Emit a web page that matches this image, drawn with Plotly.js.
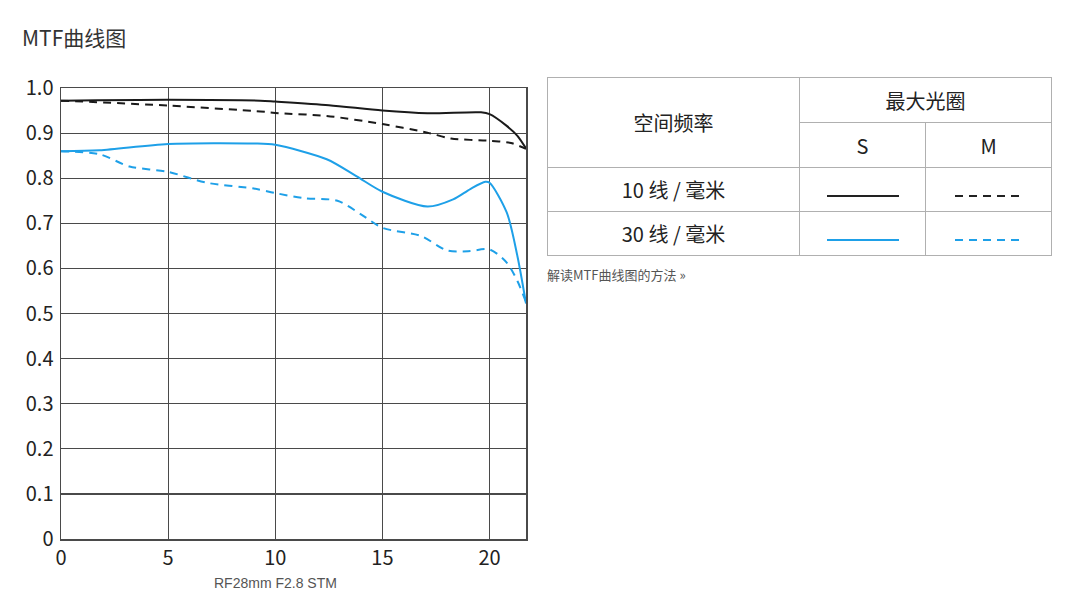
<!DOCTYPE html>
<html><head><meta charset="utf-8">
<script src="https://cdn.plot.ly/plotly-3.0.1.min.js"></script>
<style>
body{margin:0;background:#fff;font-family:"Noto Sans CJK SC","Noto Sans",sans-serif;}
#title{position:absolute;left:22px;top:22px;font-size:21px;color:#333;}
#chart{position:absolute;left:0;top:0;width:1080px;height:615px;}
#leg{position:absolute;left:547px;top:77px;border-collapse:collapse;}
#leg td{border:1.5px solid #b0b0b0;text-align:center;font-size:20px;color:#222;padding:0;}
#link{position:absolute;left:547px;top:265px;font-size:13px;color:#555;}
</style></head><body>
<div id="chart"></div>
<div id="title">MTF曲线图</div>
<table id="leg">
<tr style="height:45px"><td rowspan="2" style="width:251px">空间频率</td><td colspan="2">最大光圈</td></tr>
<tr style="height:45px"><td style="width:125px">S</td><td style="width:125px">M</td></tr>
<tr style="height:44px"><td>10 线 / 毫米</td><td><svg width="72" height="4"><line x1="0" y1="2" x2="72" y2="2" stroke="#222" stroke-width="2"/></svg></td><td><svg width="68" height="4"><line x1="0" y1="2" x2="68" y2="2" stroke="#222" stroke-width="2" stroke-dasharray="8,6"/></svg></td></tr>
<tr style="height:44px"><td>30 线 / 毫米</td><td><svg width="72" height="4"><line x1="0" y1="2" x2="72" y2="2" stroke="#1EA0E8" stroke-width="2"/></svg></td><td><svg width="68" height="4"><line x1="0" y1="2" x2="68" y2="2" stroke="#1EA0E8" stroke-width="2" stroke-dasharray="8,6"/></svg></td></tr>
</table>
<div id="link">解读MTF曲线图的方法 »</div>
<script>
const xS10 = [0, 5, 9.3, 10, 12.5, 15, 17.1, 19.6, 20, 20.8, 21.3, 21.7];
const yS10 = [0.972, 0.974, 0.972, 0.970, 0.962, 0.950, 0.944, 0.946, 0.942, 0.916, 0.894, 0.866];
const xM10 = [0, 5, 9.3, 10.2, 12.4, 15, 17.1, 18.2, 20, 21, 21.7];
const yM10 = [0.972, 0.961, 0.948, 0.944, 0.938, 0.920, 0.901, 0.888, 0.883, 0.878, 0.865];
const xS30 = [0, 1.8, 5, 9, 10, 12.4, 13.8, 15, 17.1, 18.3, 19.1, 19.8, 20, 20.8, 21.3, 21.7];
const yS30 = [0.860, 0.862, 0.876, 0.877, 0.874, 0.842, 0.804, 0.770, 0.737, 0.753, 0.776, 0.792, 0.790, 0.724, 0.627, 0.522];
const xM30 = [0, 1.8, 3.2, 5, 6.8, 9, 10, 11.3, 12.9, 14, 15, 16.8, 18, 19, 20, 20.8, 21.3, 21.7];
const yM30 = [0.860, 0.853, 0.826, 0.814, 0.790, 0.777, 0.767, 0.756, 0.750, 0.720, 0.690, 0.672, 0.640, 0.638, 0.642, 0.613, 0.572, 0.525];
const xTicks = [0, 5, 10, 15, 20];
const yTicks = [0, 0.1, 0.2, 0.3, 0.4, 0.5, 0.6, 0.7, 0.8, 0.9, 1.0];
const yTickText = ['0', '0.1', '0.2', '0.3', '0.4', '0.5', '0.6', '0.7', '0.8', '0.9', '1.0'];
const lensName = 'RF28mm F2.8 STM';

const black = '#1a1a1a', blue = '#1EA0E8';
const mk = (x, y, c, d) => ({x, y, type:'scatter', mode:'lines', line:{color:c, width:2, dash:d, shape:'spline', smoothing:0.8}, hoverinfo:'skip'});
const data = [
  mk(xS10, yS10, black, 'solid'),
  mk(xM10, yM10, black, '8px,6px'),
  mk(xS30, yS30, blue, 'solid'),
  mk(xM30, yM30, blue, '8px,6px')
];
const axisFont = {family:'"Noto Sans CJK SC", "Noto Sans", sans-serif', size:20, color:'#222'};
const layout = {
  width:1080, height:615, showlegend:false,
  margin:{l:61, r:554, t:88, b:76},
  paper_bgcolor:'#fff', plot_bgcolor:'#fff',
  xaxis:{range:[0,21.7], tickvals:xTicks, ticktext:xTicks.map(String), showgrid:true, gridcolor:'#4a4a4a', gridwidth:1.2,
         zeroline:false, showline:true, linecolor:'#4a4a4a', linewidth:1.5, mirror:true, ticks:'', tickfont:axisFont, ticklabelstandoff:0},
  yaxis:{range:[0,1.0], tickvals:yTicks, ticktext:yTickText, showgrid:true, gridcolor:'#4a4a4a', gridwidth:1.2,
         zeroline:false, showline:true, linecolor:'#4a4a4a', linewidth:1.5, mirror:true, ticks:'', tickfont:axisFont, ticklabelstandoff:2},
  annotations:[{x:10, y:0, xref:'x', yref:'paper', yshift:-44, yanchor:'middle', text:lensName, showarrow:false,
    font:{family:'"Liberation Sans", Arial, sans-serif', size:14, color:'#555'}}]
};
Plotly.newPlot('chart', data, layout, {staticPlot:true});
</script>
</body></html>
